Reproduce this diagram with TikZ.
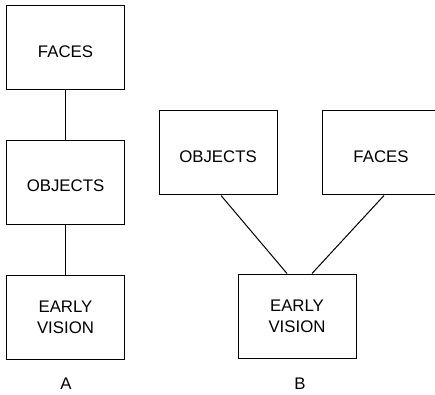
\documentclass[tikz,border=0pt]{standalone}
\usepackage{fontspec}
\setmainfont{Liberation Sans}
\tikzset{
  stage/.style={draw, line width=0.75pt, minimum width=88.5pt, minimum height=63pt,
    align=center, font=\fontsize{12.6}{15.75}\selectfont},
  oneline/.style={stage, text height=13.8pt},
  caption/.style={anchor=base, font=\fontsize{12.6}{15.75}\selectfont},
}
\begin{document}
\begin{tikzpicture}[x=0.75pt, y=-0.75pt]
\useasboundingbox (0,0) rectangle (435,395);
\clip (0,0) rectangle (435,395);
% A: one chain
\node[oneline] (facesA) at (65.5, 48) {FACES};
\node[oneline] (objectsA) at (65.5, 182.5) {OBJECTS};
\node[stage] (visionA) at (65.5, 317) {EARLY\\VISION};
\draw[line width=0.75pt] (facesA) -- (objectsA);
\draw[line width=0.75pt] (objectsA) -- (visionA);
\node[caption] (labelA) at (66, 389) {A};
% B: two branches
\node[oneline] (objectsB) at (218, 153) {OBJECTS};
\node[oneline] (facesB) at (381, 153) {FACES};
\node[stage] (visionB) at (297, 316) {EARLY\\VISION};
\draw[line width=0.75pt] ([xshift=2.25pt]objectsB.south) -- ([xshift=-7.5pt]visionB.north);
\draw[line width=0.75pt] ([xshift=2.25pt]facesB.south) -- ([xshift=11.25pt]visionB.north);
\node[caption] (labelB) at (300, 389) {B};
\end{tikzpicture}
\end{document}
